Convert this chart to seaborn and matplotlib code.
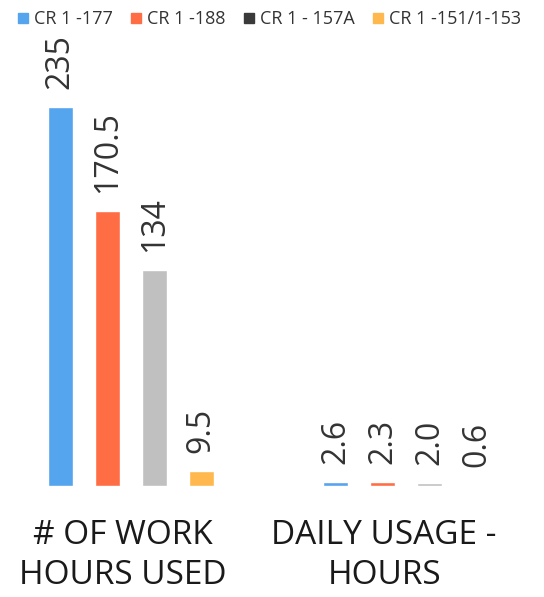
import pandas as pd
import matplotlib.pyplot as plt
import seaborn as sns
from matplotlib.lines import Line2D
from matplotlib.transforms import ScaledTranslation

# Data
sites = ['CR 1 -177', 'CR 1 -188', 'CR 1 - 157A', 'CR 1 -151/1-153']
metrics = ['# OF WORK\nHOURS USED', 'DAILY USAGE -\nHOURS']
work_hours = [235, 170.5, 134, 9.5]
daily_usage = [2.6, 2.3, 2.0, 0.6]
label_formats = ['{:g}', '{:.1f}']

colors = ['#55A4EE', '#FF6D45', '#C0C0C0', '#FFB84D']
legend_colors = ['#55A4EE', '#FF6D45', '#3a3a3a', '#FFB84D']

rows = []
for metric, vals in zip(metrics, [work_hours, daily_usage]):
    for site, v in zip(sites, vals):
        rows.append({'metric': metric, 'site': site, 'value': v})
df = pd.DataFrame(rows)

sns.set_theme(style="white")
plt.rcParams['font.family'] = ['Open Sans', 'DejaVu Sans']

fig = plt.figure(figsize=(5.44, 5.97), dpi=100)
px_per_unit = 1.613
base_px, top_px = 486, 40
ax = fig.add_axes([0, (597 - base_px) / 597, 1, (base_px - top_px) / 597])

sns.barplot(data=df, x='metric', y='value', hue='site', hue_order=sites,
            palette=colors, width=0.683, gap=0.468, legend=False,
            saturation=1, ax=ax)

ax.set_ylim(0, (base_px - top_px) / px_per_unit)
ax.set_xlim(-0.475, 1.501)

for cont in ax.containers:
    labels = [fmt.format(b.get_height()) for fmt, b in zip(label_formats, cont)]
    ax.bar_label(cont, labels=labels, rotation=90, padding=13,
                 fontsize=23, color='#333333')

sns.despine(left=True, bottom=True)
ax.set_yticks([])
ax.set_xlabel('')
ax.set_ylabel('')
ax.tick_params(axis='x', length=0, pad=24, labelsize=24, colors='#1a1a1a')
for lab, dx in zip(ax.get_xticklabels(), [-8, -22]):
    lab.set_linespacing(1.25)
    lab.set_transform(lab.get_transform() + ScaledTranslation(dx / 100, 0, fig.dpi_scale_trans))

handles = [Line2D([], [], marker='s', linestyle='', markersize=7, color=c) for c in legend_colors]
fig.legend(handles, sites, loc='upper center', bbox_to_anchor=(0.495, 1.01), ncol=4,
           frameon=False, fontsize=13, handlelength=0.6, handletextpad=0.3,
           columnspacing=1.0, labelcolor='#333333')

fig.savefig('out.png', dpi=100)
